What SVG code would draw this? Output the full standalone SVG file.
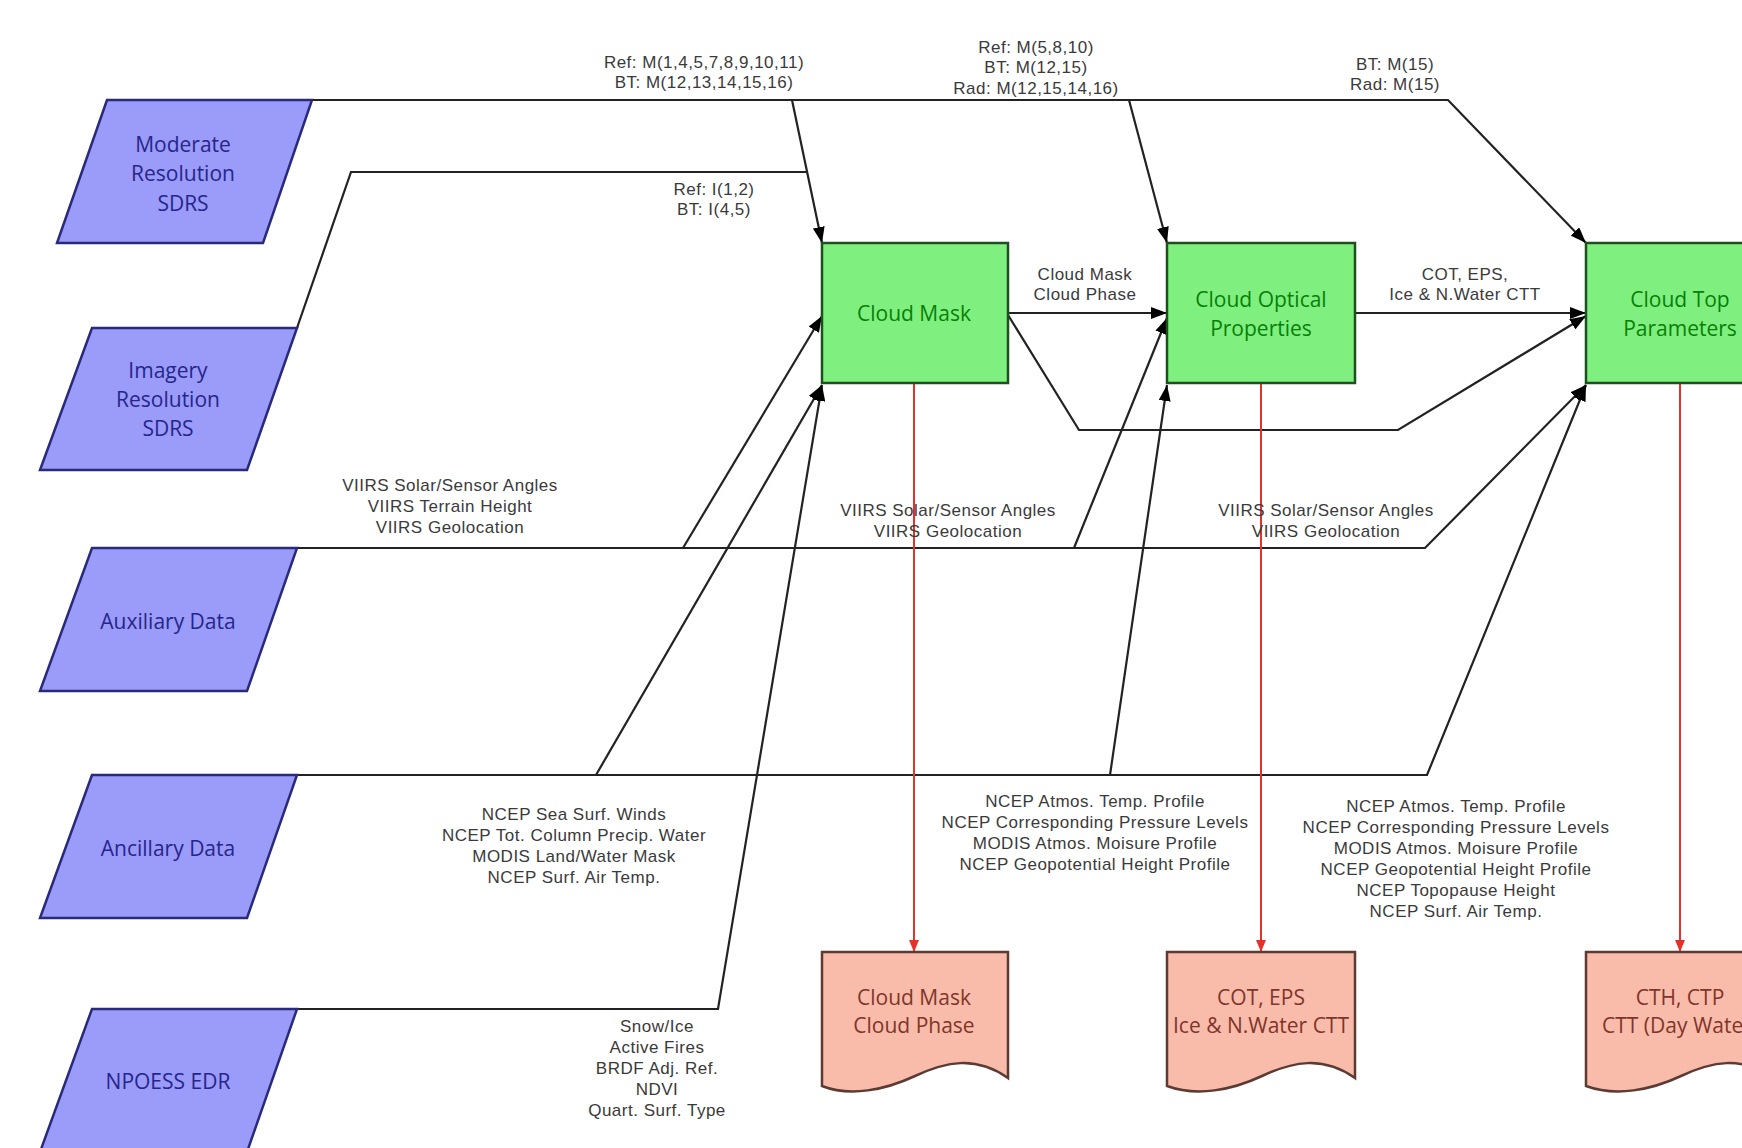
<svg xmlns="http://www.w3.org/2000/svg" width="1742" height="1148" viewBox="0 0 1742 1148">
<style>
.in{fill:#9b9bfa;stroke:#2a2a7a;stroke-width:2.5}
.it{font-family:"Open Sans","Liberation Sans",sans-serif;font-size:21px;fill:#26268a;text-anchor:middle;dominant-baseline:central}
.pr{fill:#7ff07f;stroke:#1f4f1f;stroke-width:2.5}
.pt{font-family:"Open Sans","Liberation Sans",sans-serif;font-size:21px;fill:#078007;text-anchor:middle;dominant-baseline:central}
.dc{fill:#f9bcaa;stroke:#5b3b33;stroke-width:2.5}
.dt{font-family:"Open Sans","Liberation Sans",sans-serif;font-size:21px;fill:#80352a;text-anchor:middle;dominant-baseline:central}
.ln{fill:none;stroke:#222;stroke-width:2.2}
.rd{fill:none;stroke:#e8302a;stroke-width:2}
.lb{font-family:"Liberation Sans",Arial,sans-serif;font-size:17px;letter-spacing:0.5px;fill:#3a3a3a;text-anchor:middle;dominant-baseline:central}
</style>
<defs>
<marker id="ah" viewBox="0 0 16 12" refX="16" refY="6" markerWidth="16" markerHeight="12" markerUnits="userSpaceOnUse" orient="auto"><path d="M0,0 L16,6 L0,12 Z" fill="#000"/></marker>
<marker id="rh" viewBox="0 0 12 10" refX="12" refY="5" markerWidth="12" markerHeight="10" markerUnits="userSpaceOnUse" orient="auto"><path d="M0,0 L12,5 L0,10 Z" fill="#e8302a"/></marker>
</defs>
<rect width="1742" height="1148" fill="#fff"/>

<g id="connectors">
<path class="ln" d="M312,100 H1448 L1586,243" marker-end="url(#ah)"/>
<path class="ln" d="M792,100 L822,243" marker-end="url(#ah)"/>
<path class="ln" d="M1129,100 L1167,243" marker-end="url(#ah)"/>
<path class="ln" d="M297,328 L351,172 H807"/>
<path class="ln" d="M297,548 H1425 L1586,385" marker-end="url(#ah)"/>
<path class="ln" d="M683,548 L822,316" marker-end="url(#ah)"/>
<path class="ln" d="M1074,548 L1167,318" marker-end="url(#ah)"/>
<path class="ln" d="M297,775 H1427 L1586,385" marker-end="url(#ah)"/>
<path class="ln" d="M596,775 L822,385" marker-end="url(#ah)"/>
<path class="ln" d="M1110,775 L1167,385" marker-end="url(#ah)"/>
<path class="ln" d="M297,1009 H718 L822,385" marker-end="url(#ah)"/>
<path class="ln" d="M1008,313 H1167" marker-end="url(#ah)"/>
<path class="ln" d="M1008,315 L1079,430 H1398 L1586,316" marker-end="url(#ah)"/>
<path class="ln" d="M1355,313 H1586" marker-end="url(#ah)"/>
<path class="rd" d="M914,383 V952" marker-end="url(#rh)"/>
<path class="rd" d="M1261,383 V952" marker-end="url(#rh)"/>
<path class="rd" d="M1680,383 V952" marker-end="url(#rh)"/>
<text class="lb" x="704" y="62">Ref: M(1,4,5,7,8,9,10,11)</text>
<text class="lb" x="704" y="82">BT: M(12,13,14,15,16)</text>
<text class="lb" x="714" y="189">Ref: I(1,2)</text>
<text class="lb" x="714" y="209">BT: I(4,5)</text>
<text class="lb" x="1036" y="47">Ref: M(5,8,10)</text>
<text class="lb" x="1036" y="67">BT: M(12,15)</text>
<text class="lb" x="1036" y="88">Rad: M(12,15,14,16)</text>
<text class="lb" x="1395" y="64">BT: M(15)</text>
<text class="lb" x="1395" y="84">Rad: M(15)</text>
<text class="lb" x="1085" y="274">Cloud Mask</text>
<text class="lb" x="1085" y="294">Cloud Phase</text>
<text class="lb" x="1465" y="274">COT, EPS,</text>
<text class="lb" x="1465" y="294">Ice &amp; N.Water CTT</text>
<text class="lb" x="450" y="485">VIIRS Solar/Sensor Angles</text>
<text class="lb" x="450" y="506">VIIRS Terrain Height</text>
<text class="lb" x="450" y="527">VIIRS Geolocation</text>
<text class="lb" x="948" y="510">VIIRS Solar/Sensor Angles</text>
<text class="lb" x="948" y="531">VIIRS Geolocation</text>
<text class="lb" x="1326" y="510">VIIRS Solar/Sensor Angles</text>
<text class="lb" x="1326" y="531">VIIRS Geolocation</text>
<text class="lb" x="574" y="814">NCEP Sea Surf. Winds</text>
<text class="lb" x="574" y="835">NCEP Tot. Column Precip. Water</text>
<text class="lb" x="574" y="856">MODIS Land/Water Mask</text>
<text class="lb" x="574" y="877">NCEP Surf. Air Temp.</text>
<text class="lb" x="1095" y="801">NCEP Atmos. Temp. Profile</text>
<text class="lb" x="1095" y="822">NCEP Corresponding Pressure Levels</text>
<text class="lb" x="1095" y="843">MODIS Atmos. Moisure Profile</text>
<text class="lb" x="1095" y="864">NCEP Geopotential Height Profile</text>
<text class="lb" x="1456" y="806">NCEP Atmos. Temp. Profile</text>
<text class="lb" x="1456" y="827">NCEP Corresponding Pressure Levels</text>
<text class="lb" x="1456" y="848">MODIS Atmos. Moisure Profile</text>
<text class="lb" x="1456" y="869">NCEP Geopotential Height Profile</text>
<text class="lb" x="1456" y="890">NCEP Topopause Height</text>
<text class="lb" x="1456" y="911">NCEP Surf. Air Temp.</text>
<text class="lb" x="657" y="1026">Snow/Ice</text>
<text class="lb" x="657" y="1047">Active Fires</text>
<text class="lb" x="657" y="1068">BRDF Adj. Ref.</text>
<text class="lb" x="657" y="1089">NDVI</text>
<text class="lb" x="657" y="1110">Quart. Surf. Type</text>
</g>

<g id="moderate">
<polygon class="in" points="107,100 312,100 263,243 57,243"/>
<text class="it" x="183" y="144">Moderate</text>
<text class="it" x="183" y="173">Resolution</text>
<text class="it" x="183" y="203">SDRS</text>
</g>
<g id="imagery">
<polygon class="in" points="92,328 297,328 247,470 40,470"/>
<text class="it" x="168" y="370">Imagery</text>
<text class="it" x="168" y="399">Resolution</text>
<text class="it" x="168" y="428">SDRS</text>
</g>
<g id="auxiliary">
<polygon class="in" points="92,548 297,548 247,691 40,691"/>
<text class="it" x="168" y="621">Auxiliary Data</text>
</g>
<g id="ancillary">
<polygon class="in" points="92,775 297,775 247,918 40,918"/>
<text class="it" x="168" y="848">Ancillary Data</text>
</g>
<g id="npoess">
<polygon class="in" points="92,1009 297,1009 247,1152 40,1152"/>
<text class="it" x="168" y="1081">NPOESS EDR</text>
</g>

<g id="cloud-mask">
<rect class="pr" x="822" y="243" width="186" height="140"/>
<text class="pt" x="914" y="313">Cloud Mask</text>
</g>
<g id="cloud-optical">
<rect class="pr" x="1167" y="243" width="188" height="140"/>
<text class="pt" x="1261" y="299">Cloud Optical</text>
<text class="pt" x="1261" y="328">Properties</text>
</g>
<g id="cloud-top">
<rect class="pr" x="1586" y="243" width="188" height="140"/>
<text class="pt" x="1680" y="299">Cloud Top</text>
<text class="pt" x="1680" y="328">Parameters</text>
</g>

<g id="doc-mask">
<path class="dc" d="M822,952 H1008 V1078 C975,1055 945,1062 915,1076 C885,1090 850,1097 822,1086 Z"/>
<text class="dt" x="914" y="997">Cloud Mask</text>
<text class="dt" x="914" y="1025">Cloud Phase</text>
</g>
<g id="doc-cot">
<path class="dc" d="M1167,952 H1355 V1078 C1322,1055 1292,1062 1262,1076 C1232,1090 1197,1097 1167,1086 Z"/>
<text class="dt" x="1261" y="997">COT, EPS</text>
<text class="dt" x="1261" y="1025">Ice &amp; N.Water CTT</text>
</g>
<g id="doc-cth">
<path class="dc" d="M1586,952 H1774 V1078 C1741,1055 1711,1062 1681,1076 C1651,1090 1616,1097 1586,1086 Z"/>
<text class="dt" x="1680" y="997">CTH, CTP</text>
<text class="dt" x="1680" y="1025">CTT (Day Water)</text>
</g>
</svg>
